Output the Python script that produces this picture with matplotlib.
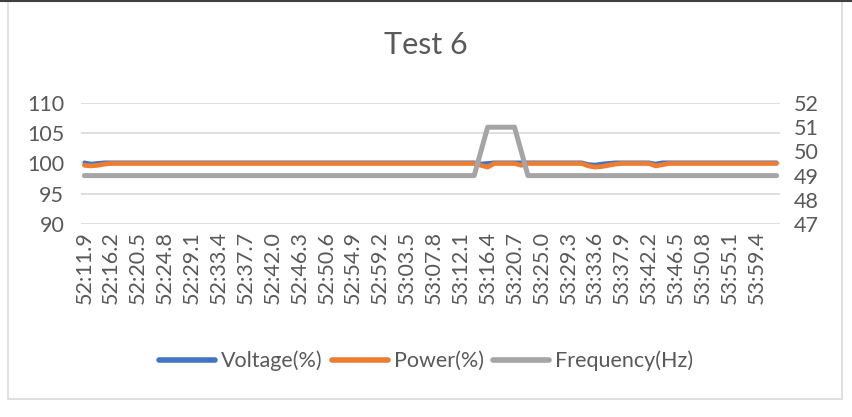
import matplotlib
matplotlib.use("Agg")
import matplotlib.pyplot as plt
from matplotlib.lines import Line2D
from matplotlib.patches import Rectangle

plt.rcParams['font.family'] = ['Lato', 'DejaVu Sans']

title = "Test 6"
tick_labels = ["52:11.9", "52:16.2", "52:20.5", "52:24.8", "52:29.1", "52:33.4", "52:37.7",
               "52:42.0", "52:46.3", "52:50.6", "52:54.9", "52:59.2", "53:03.5", "53:07.8",
               "53:12.1", "53:16.4", "53:20.7", "53:25.0", "53:29.3", "53:33.6", "53:37.9",
               "53:42.2", "53:46.5", "53:50.8", "53:55.1", "53:59.4"]
label_step = 4

voltage = [
    100.2, 100.0, 100.1, 100.2, 100.2, 100.2, 100.2, 100.2, 100.2, 100.2, 100.2, 100.2, 100.2,
    100.2, 100.2, 100.2, 100.2, 100.2, 100.2, 100.2, 100.2, 100.2, 100.2, 100.2, 100.2, 100.2,
    100.2, 100.2, 100.2, 100.2, 100.2, 100.2, 100.2, 100.2, 100.2, 100.2, 100.2, 100.2, 100.2,
    100.2, 100.2, 100.2, 100.2, 100.2, 100.2, 100.2, 100.2, 100.2, 100.2, 100.2, 100.2, 100.2,
    100.2, 100.2, 100.2, 100.2, 100.2, 100.2, 100.2, 100.0, 100.1, 100.2, 100.2, 100.2, 100.2,
    100.2, 100.2, 100.2, 100.2, 100.2, 100.2, 100.2, 100.2, 100.2, 100.2, 99.9, 99.8, 100.0,
    100.1, 100.2, 100.2, 100.2, 100.2, 100.2, 100.2, 100.0, 100.2, 100.2, 100.2, 100.2, 100.2,
    100.2, 100.2, 100.2, 100.2, 100.2, 100.2, 100.2, 100.2, 100.2, 100.2, 100.2, 100.2, 100.2,
]
power = [
    99.7, 99.6, 99.7, 99.9, 100.0, 100.0, 100.0, 100.0, 100.0, 100.0, 100.0, 100.0, 100.0,
    100.0, 100.0, 100.0, 100.0, 100.0, 100.0, 100.0, 100.0, 100.0, 100.0, 100.0, 100.0, 100.0,
    100.0, 100.0, 100.0, 100.0, 100.0, 100.0, 100.0, 100.0, 100.0, 100.0, 100.0, 100.0, 100.0,
    100.0, 100.0, 100.0, 100.0, 100.0, 100.0, 100.0, 100.0, 100.0, 100.0, 100.0, 100.0, 100.0,
    100.0, 100.0, 100.0, 100.0, 100.0, 100.0, 100.0, 99.7, 99.4, 100.0, 100.0, 100.0, 100.0,
    99.7, 100.0, 100.0, 100.0, 100.0, 100.0, 100.0, 100.0, 100.0, 100.0, 99.6, 99.4, 99.5,
    99.7, 99.9, 100.0, 100.0, 100.0, 100.0, 100.0, 99.6, 99.8, 100.0, 100.0, 100.0, 100.0,
    100.0, 100.0, 100.0, 100.0, 100.0, 100.0, 100.0, 100.0, 100.0, 100.0, 100.0, 100.0, 100.0,
]
frequency = [
    49, 49, 49, 49, 49, 49, 49, 49, 49, 49, 49, 49, 49,
    49, 49, 49, 49, 49, 49, 49, 49, 49, 49, 49, 49, 49,
    49, 49, 49, 49, 49, 49, 49, 49, 49, 49, 49, 49, 49,
    49, 49, 49, 49, 49, 49, 49, 49, 49, 49, 49, 49, 49,
    49, 49, 49, 49, 49, 49, 49, 50, 51, 51, 51, 51, 51,
    50, 49, 49, 49, 49, 49, 49, 49, 49, 49, 49, 49, 49,
    49, 49, 49, 49, 49, 49, 49, 49, 49, 49, 49, 49, 49,
    49, 49, 49, 49, 49, 49, 49, 49, 49, 49, 49, 49, 49,
]
series_names = ["Voltage(%)", "Power(%)", "Frequency(Hz)"]
colors = ["#4472C4", "#ED7D31", "#A5A5A5"]
text_color = "#595959"

W, H = 852, 417
fig = plt.figure(figsize=(W / 100, H / 100), dpi=100)

def fx(px):
    return px / W

def fy(py):
    return 1 - py / H

# chart border
fig.add_artist(Rectangle((fx(8), fy(399)), fx(842) - fx(8), fy(1) - fy(399),
                         transform=fig.transFigure, fill=False, edgecolor="#d9d9d9", lw=1.2))
fig.add_artist(Line2D([0, 1], [fy(0.8), fy(0.8)], transform=fig.transFigure, color="#404040", lw=1.5))

ax = fig.add_axes([fx(81), fy(224), fx(780) - fx(81), fy(103) - fy(224)])
ax2 = ax.twinx()

x = list(range(len(voltage)))
ax.plot(x, voltage, color=colors[0], lw=2.6, solid_capstyle="round", zorder=3)
ax.plot(x, power, color=colors[1], lw=3.4, solid_capstyle="round", zorder=4)
ax2.plot(x, frequency, color=colors[2], lw=3.6, solid_capstyle="round", zorder=5)

ax.set_xlim(-0.5, len(voltage) - 0.5)
ax.set_ylim(90, 110)
ax.set_yticks([90, 95, 100, 105, 110])
ax2.set_ylim(47, 52)
ax2.set_yticks([47, 48, 49, 50, 51, 52])
ax.grid(axis="y", color="#d9d9d9", lw=1.2)
ax.set_axisbelow(True)

ax.set_xticks(list(range(0, label_step * len(tick_labels), label_step)))
ax.set_xticklabels(tick_labels, rotation=90)

for a in (ax, ax2):
    for s in a.spines.values():
        s.set_visible(False)
    a.tick_params(length=0, colors=text_color, labelsize=15.5)
ax.tick_params(axis="y", pad=12)
ax2.tick_params(axis="y", pad=10)
ax.tick_params(axis="x", pad=5)

fig.text(0.5, fy(45), title, ha="center", va="center", fontsize=22, color=text_color)

handles = [Line2D([], [], color=c, lw=4, solid_capstyle="round") for c in colors]
fig.legend(handles, series_names, loc="center", bbox_to_anchor=(0.5, fy(361)), ncol=3,
           frameon=False, fontsize=15.5, labelcolor=text_color, handlelength=2.6,
           handletextpad=0.3, columnspacing=0.4)

fig.savefig("out.png", dpi=100)
